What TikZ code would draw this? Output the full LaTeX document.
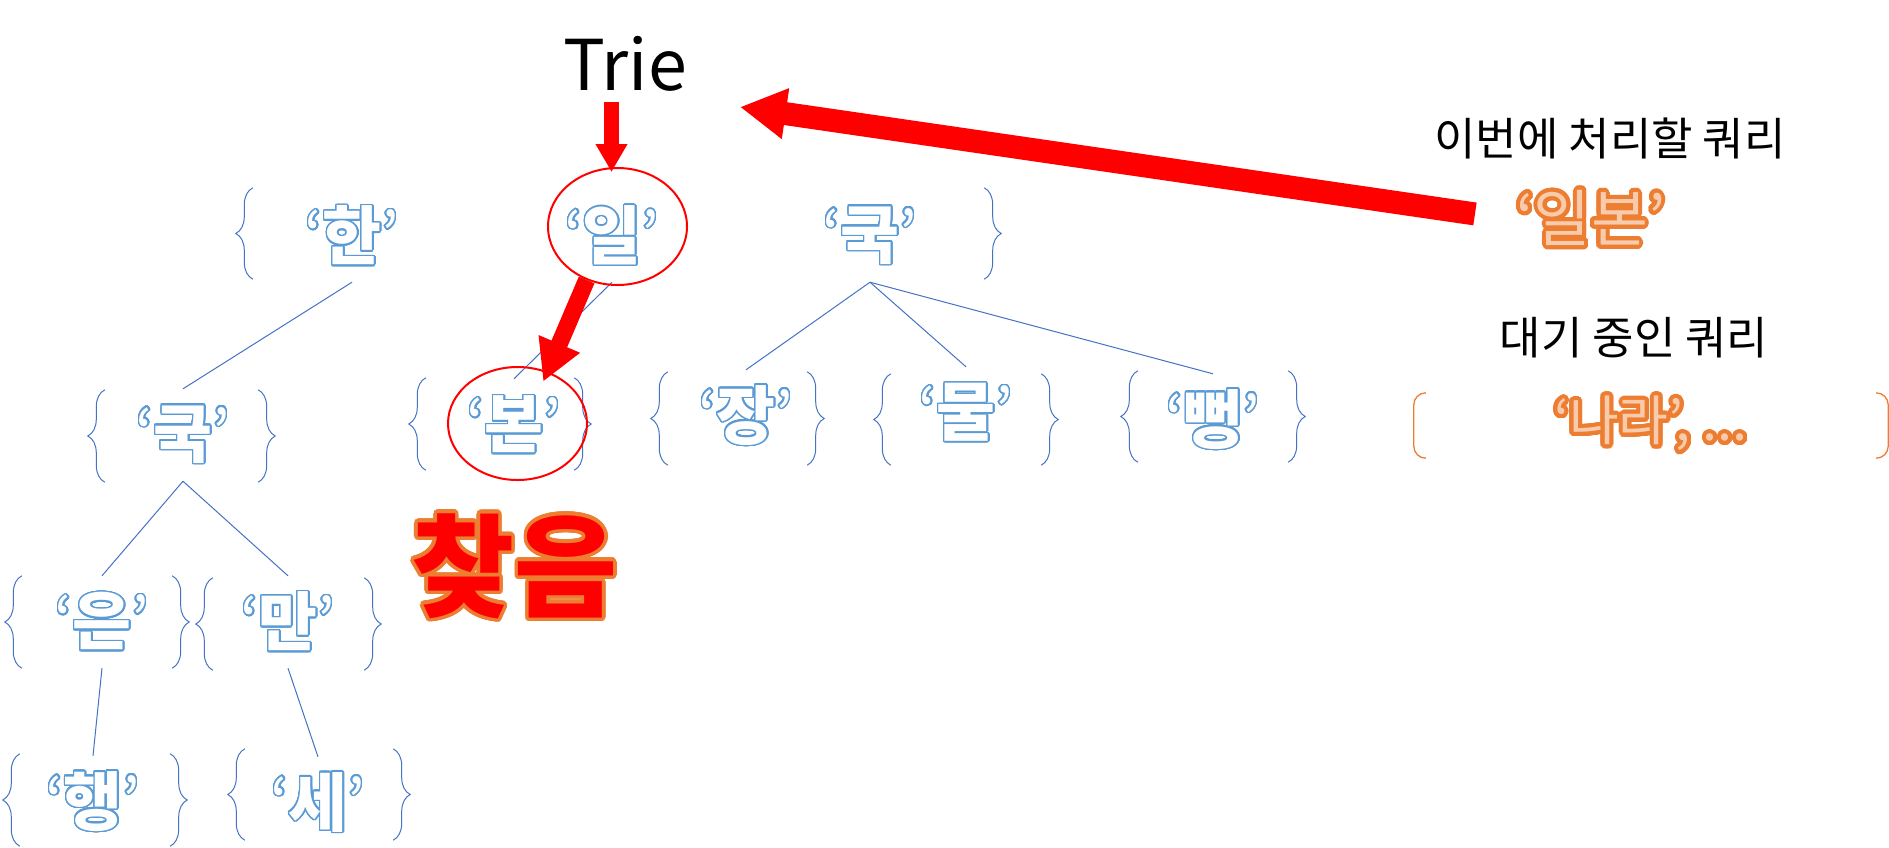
\documentclass[tikz,border=0pt]{standalone}
\usepackage{fontspec}
\usepackage[copies]{contour}
\usetikzlibrary{arrows.meta,shapes.geometric,decorations.pathreplacing,calc}
\newfontfamily\kr{Noto Sans CJK KR}
\definecolor{keyblue}{HTML}{5B9BD5}
\definecolor{lineblue}{HTML}{4472C4}
\definecolor{qorange}{HTML}{ED7D31}
\definecolor{qlight}{HTML}{F8CBAD}
\contournumber{32}
\newcommand\bluekey[1]{\contourlength{1.5pt}\contour{keyblue}{\textcolor{white}{{\mdseries‘}#1{\mdseries’}}}}
\newcommand\orangetext[1]{\contourlength{4pt}\contour{qorange}{\textcolor{qlight}{#1}}}
\newcommand\foundtext[1]{\contourlength{3.5pt}\contour{qorange}{\textcolor{red}{#1}}}
\tikzset{
  keytxt/.style={inner sep=0pt, minimum height=92pt, font=\kr\bfseries\fontsize{64}{72}\selectfont},
  boxnode/.style={inner sep=0pt, minimum width=#1, minimum height=92pt},
  bracel/.style={draw=lineblue, line width=1pt, decorate, decoration={brace, amplitude=17pt}},
  edgeline/.style={draw=lineblue, line width=1pt},
  ring/.style={ellipse, draw=red, line width=2pt, inner sep=0pt},
  smallarrow/.style={draw=red, line width=15pt, -{Triangle[length=28pt, width=30pt]}},
  midarrow/.style={draw=red, line width=17pt, -{Triangle[length=41pt, width=42pt]}},
  bigarrow/.style={draw=red, line width=23pt, -{Triangle[length=46pt, width=48pt]}},
  label/.style={inner sep=0pt, font=\kr\fontsize{45}{50}\selectfont},
  qbracket/.style={draw=qorange, line width=1.3pt, rounded corners=12pt},
}
\begin{document}
\begin{tikzpicture}[x=1pt, y=-1pt]
\path[use as bounding box, fill=white] (0,0) rectangle (1889,847);

% boxes (braces)
\node[boxnode=731pt, minimum height=91pt] (root) at (618.5,233.5) {};
\node[boxnode=153pt] (bkuk2) at (181.5,436) {};
\node[boxnode=148pt] (bbon) at (500,424) {};
\node[boxnode=139pt, minimum height=93pt] (bjang) at (737.5,418.5) {};
\node[boxnode=150pt, minimum height=91pt] (bmul) at (966,419.5) {};
\node[boxnode=150pt, minimum height=91pt] (bppeong) at (1213,416.5) {};
\node[boxnode=150pt] (beun) at (97,622) {};
\node[boxnode=151pt] (bman) at (288.5,624) {};
\node[boxnode=150pt] (bhaeng) at (95,800) {};
\node[boxnode=148pt, minimum height=91pt] (bse) at (319,794.5) {};
\foreach \b in {root,bkuk2,bbon,bjang,bmul,bppeong,beun,bman,bhaeng,bse}{
  \draw[bracel] (\b.south west) -- (\b.north west);
  \draw[bracel] (\b.north east) -- (\b.south east);
}

% keys
\node[keytxt] (khan) at (352,236) {\bluekey{한}};
\node[keytxt] (kil) at (612,236) {\bluekey{일}};
\node[keytxt] (kkuk1) at (870,236) {\bluekey{국}};
\node[keytxt] (kkuk2) at (183,435) {\bluekey{국}};
\node[keytxt] (kbon) at (514,425) {\bluekey{본}};
\node[keytxt] (kjang) at (746,416) {\bluekey{장}};
\node[keytxt] (kmul) at (966,413) {\bluekey{물}};
\node[keytxt] (kppeong) at (1213,420) {\bluekey{뻥}};
\node[keytxt] (keun) at (102,622) {\bluekey{은}};
\node[keytxt] (kman) at (288,622) {\bluekey{만}};
\node[keytxt] (khaeng) at (93,802) {\bluekey{행}};
\node[keytxt] (kse) at (318,803) {\bluekey{세}};

% tree edges
\draw[edgeline] (khan.south) -- (kkuk2.north);
\draw[edgeline] (kil.south) -- (kbon.north);
\draw[edgeline] (kkuk1.south) -- (kjang.north);
\draw[edgeline] (kkuk1.south) -- (kmul.north);
\draw[edgeline] (kkuk1.south) -- (kppeong.north);
\draw[edgeline] (kkuk2.south) -- (keun.north);
\draw[edgeline] (kkuk2.south) -- (kman.north);
\draw[edgeline] (keun.south) -- (khaeng.north);
\draw[edgeline] (kman.south) -- (kse.north);

% highlight rings
\node[ring, minimum width=139pt, minimum height=117pt] (e1) at (617.5,226.5) {};
\node[ring, minimum width=139pt, minimum height=113pt] (e2) at (517.5,423.5) {};

% Trie title
\node[inner sep=0pt, font=\kr\fontsize{70}{80}\selectfont] (trie) at (625,63.5) {Trie};
\draw[smallarrow, shorten <=11pt, shorten >=-5pt] ($(e1.north |- trie.south)+(-6,0)$) -- ($(e1.north)+(-6,0)$);

% found
\node[inner sep=0pt, font=\kr\bfseries\fontsize{112}{120}\selectfont] (found) at (514.5,568) {\foundtext{찾음}};
\draw[midarrow, shorten >=-11pt] (e1.240) -- (e2.60);

% right side
\node[label] (lab1) at (1610,138) {이번에 처리할 쿼리};
\node[inner sep=0pt, font=\kr\fontsize{62}{66}\selectfont] (q1) at (1591,220) {\orangetext{‘일본’}};
\coordinate (trietip) at (740,107);
\draw[bigarrow, shorten <=42pt] (q1.west) -- (trietip);
\node[label] (lab2) at (1634,338) {대기 중인 쿼리};
\node[inner sep=0pt, minimum width=474pt, minimum height=65pt, font=\kr\fontsize{54}{60}\selectfont] (q2) at (1651,425.5) {\orangetext{‘나라’, ...}};
\draw[qbracket] ($(q2.north west)+(12,0)$) -- (q2.north west) -- (q2.south west) -- ($(q2.south west)+(12,0)$);
\draw[qbracket] ($(q2.north east)+(-12,0)$) -- (q2.north east) -- (q2.south east) -- ($(q2.south east)+(-12,0)$);
\end{tikzpicture}
\end{document}
